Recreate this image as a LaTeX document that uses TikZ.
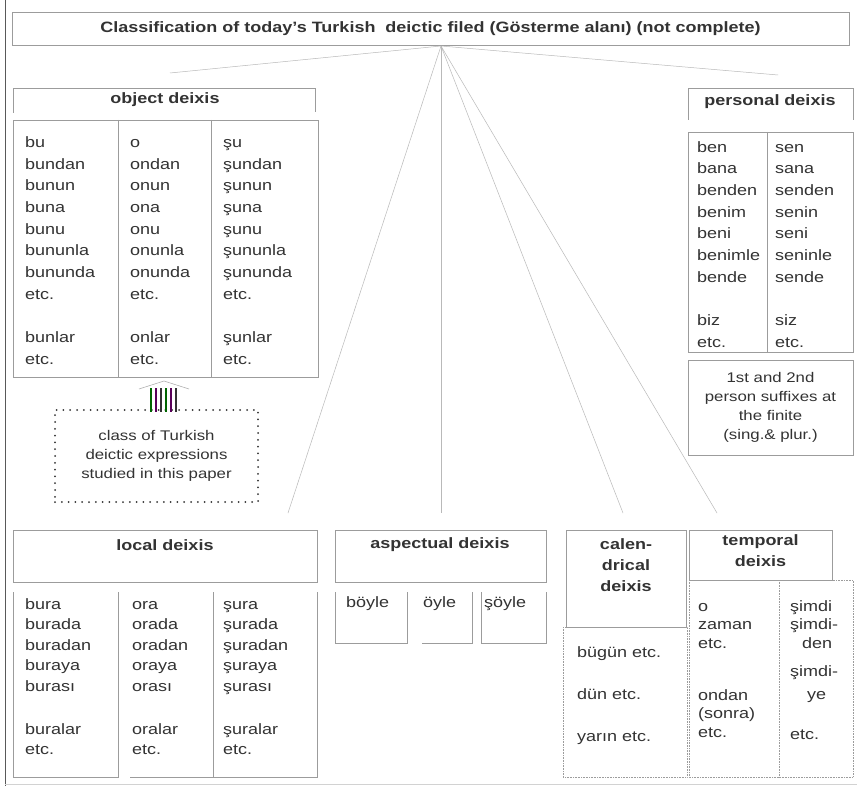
\documentclass[tikz,border=0pt]{standalone}
\usepackage{fontspec}
\setmainfont{Liberation Sans}[FakeStretch=1.2]
\definecolor{ink}{HTML}{333333}
\definecolor{rule}{HTML}{9C9C9C}

\begin{document}
\begin{tikzpicture}[x=1pt, y=-1pt,
    box/.style={draw=rule, line width=0.6pt},
    faint/.style={draw=rule, line width=0.6pt, densely dotted},
    fan/.style={draw=gray!55, line width=0.5pt},
    hdr/.style={inner sep=0pt, text=ink, align=center, font=\bfseries\fontsize{15}{21}\selectfont},
    words/.style={anchor=north west, inner sep=0pt, text=ink, align=left, font=\fontsize{15}{21.7}\selectfont},
    note/.style={inner sep=0pt, text=ink, align=center, font=\fontsize{14}{19}\selectfont}]
    \useasboundingbox (0,0) rectangle (857,786);
    \fill[white] (0,0) rectangle (857,786);
    \draw[gray!70!black, line width=1pt] (5,0) -- (5,786);
    \draw[gray!35, line width=0.5pt] (5,784) -- (857,784);

    % title and the fan under it
    \node[draw=rule, line width=0.6pt, minimum width=837pt, minimum height=33pt, inner sep=0pt,
          text=ink, font=\bfseries\fontsize{15}{18}\selectfont] (title) at (430.5,28.5)
          {Classification of today's Turkish \ deictic filed (Gösterme alanı) (not complete)};
    \coordinate (apex) at (441,46);
    \coordinate (objtip) at (170,73);
    \coordinate (pertip) at (778,75);
    \coordinate (loctip) at (288,513);
    \coordinate (asptip) at (441,513);
    \coordinate (caltip) at (623,513);
    \coordinate (temtip) at (717,513);
    \draw[fan] (apex) -- (objtip);
    \draw[fan] (apex) -- (pertip);
    \draw[fan] (apex) -- (loctip);
    \draw[fan] (apex) -- (asptip);
    \draw[fan] (apex) -- (caltip);
    \draw[fan] (apex) -- (temtip);

    % object deixis
    \draw[box] (13,113) -- (13,88) -- (315,88) -- (315,112);
    \node[hdr] (objhdr) at (165,100) {object deixis};
    \draw[box] (13,120) rectangle (318,377);
    \draw[box] (118,120) -- (118,377);
    \draw[box] (211,120) -- (211,377);
    \node[words] (bu) at (25,132) {\strut bu\\bundan\\bunun\\buna\\bunu\\bununla\\bununda\\etc.\\[21.7pt]bunlar\\etc.};
    \node[words] (o) at (130,132) {\strut o\\ondan\\onun\\ona\\onu\\onunla\\onunda\\etc.\\[21.7pt]onlar\\etc.};
    \node[words] (su) at (223,132) {\strut şu\\şundan\\şunun\\şuna\\şunu\\şununla\\şununda\\etc.\\[21.7pt]şunlar\\etc.};

    % the class studied here
    \node[note, draw=ink, line width=2pt, dash pattern=on 0pt off 6.8pt, line cap=round,
          minimum width=203pt, minimum height=92pt] (studied) at (156.5,456)
          {class of Turkish\\deictic expressions\\studied in this paper};
    \draw[gray!60, line width=0.6pt] (139,389) -- (164,381) -- (189,389);
    \draw[green!40!black, line width=1.5pt] (151,388) -- (151,412) (166,388) -- (166,412);
    \draw[violet!70!black, line width=1.5pt] (156,388) -- (156,412) (171,388) -- (171,412);
    \draw[ink, line width=1.5pt] (161,388) -- (161,412) (176,388) -- (176,412);

    % personal deixis
    \draw[box] (688,120) -- (688,88) -- (853,88) -- (853,120);
    \node[hdr] (perhdr) at (770,102) {personal deixis};
    \draw[box] (688,132) rectangle (853,352);
    \draw[box] (767,132) -- (767,352);
    \node[words] (ben) at (697,136.7) {\strut ben\\bana\\benden\\benim\\beni\\benimle\\bende\\[21.7pt]biz\\etc.};
    \node[words] (sen) at (775,136.7) {\strut sen\\sana\\senden\\senin\\seni\\seninle\\sende\\[21.7pt]siz\\etc.};
    \node[note, draw=rule, line width=0.6pt, minimum width=165pt, minimum height=95pt] (suffix)
          at (770.5,407.5) {1st and 2nd\\person suffixes at\\the finite\\(sing.\& plur.)};

    % local deixis
    \draw[box] (13,530) rectangle (317,582);
    \node[hdr] (lochdr) at (165,545) {local deixis};
    \draw[box] (13,592) -- (13,777) -- (118,777) -- (118,592);
    \draw[box] (130,777) -- (213,777);
    \draw[box] (213,592) -- (213,777) -- (317,777) -- (317,592);
    \node[words, font=\fontsize{15}{20.5}\selectfont] (bura) at (25,594.5)
          {\strut bura\\burada\\buradan\\buraya\\burası\\[22.5pt]buralar\\etc.};
    \node[words, font=\fontsize{15}{20.5}\selectfont] (ora) at (132,594.5)
          {\strut ora\\orada\\oradan\\oraya\\orası\\[22.5pt]oralar\\etc.};
    \node[words, font=\fontsize{15}{20.5}\selectfont] (sura) at (223,594.5)
          {\strut şura\\şurada\\şuradan\\şuraya\\şurası\\[22.5pt]şuralar\\etc.};

    % aspectual deixis
    \draw[box] (335,530) rectangle (546,582);
    \node[hdr] (asphdr) at (440,545) {aspectual deixis};
    \draw[box] (335,592) -- (335,643) -- (407,643) -- (407,592);
    \draw[box] (422,643) -- (472,643) -- (472,592);
    \draw[box] (481,592) -- (481,643) -- (546,643) -- (546,592);
    \node[words] (boyle) at (346,591.7) {\strut böyle};
    \node[words] (oyle) at (423,591.7) {\strut öyle};
    \node[words] (soyle) at (484,591.7) {\strut şöyle};

    % calendrical deixis
    \draw[box] (566,530) rectangle (686,627);
    \node[hdr] (calhdr) at (626,565) {calen-\\drical\\deixis};
    \draw[faint] (563,627) rectangle (687,777);
    \node[words, font=\fontsize{15}{18.5}\selectfont] (bugun) at (577,644)
          {\strut bügün etc.\\[23.5pt]dün etc.\\[23.5pt]yarın etc.};

    % temporal deixis
    \draw[box] (689,530) rectangle (832,580);
    \node[hdr] (temhdr) at (760.5,551) {temporal\\deixis};
    \draw[faint] (689,580) rectangle (853,777);
    \draw[faint] (779,580) -- (779,777);
    \node[words, font=\fontsize{15}{18.5}\selectfont] (ozaman) at (698,598)
          {\strut o\\zaman\\etc.\\[33.5pt]ondan\\(sonra)\\etc.};
    \node[words, font=\fontsize{15}{18.5}\selectfont] (simdi) at (790,598)
          {\strut şimdi\\şimdi-\\\hspace*{12pt}den\\[10pt]şimdi-\\[4pt]\hspace*{17pt}ye\\[21.5pt]etc.};
\end{tikzpicture}
\end{document}
